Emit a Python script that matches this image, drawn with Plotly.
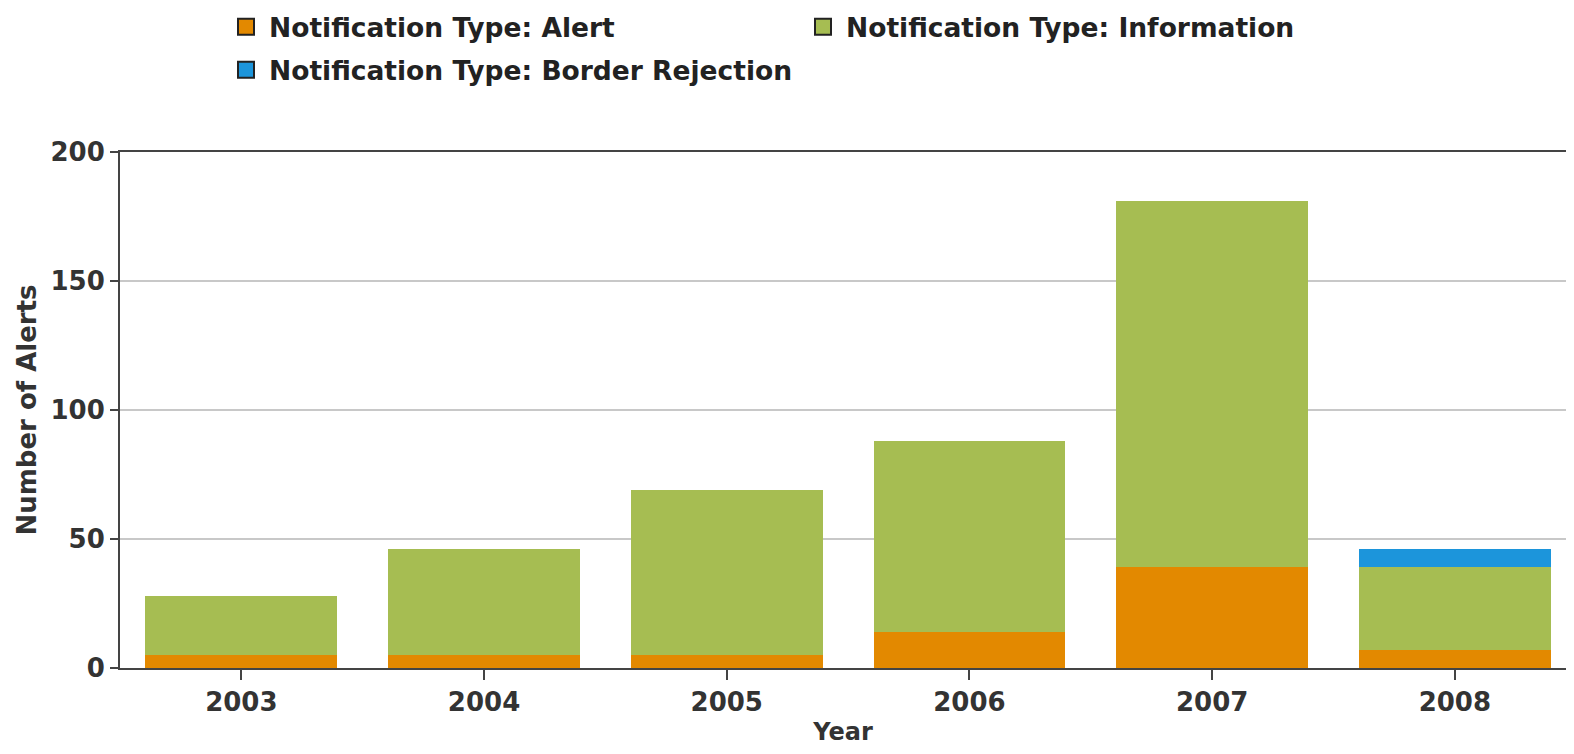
import plotly.graph_objects as go

years = ["2003", "2004", "2005", "2006", "2007", "2008"]
alert = [5, 5, 5, 14, 39, 7]
information = [23, 41, 64, 74, 142, 32]
border_rejection = [0, 0, 0, 0, 0, 7]

series_names = ["Notification Type: Alert", "Notification Type: Information",
                "Notification Type: Border Rejection"]
colors = ["#E38900", "#A6BD52", "#1C95DB"]
legend_ids = ["legend", "legend", "legend2"]
y_ticks = [0, 50, 100, 150, 200]

# page body has an 8px margin, so the figure is sized to fit the window without scrollbars
W, H = 1558, 738
FONT = "DejaVu Sans"
TXT = "#333333"

fig = go.Figure()
for name, vals, col in zip(series_names, [alert, information, border_rejection], colors):
    fig.add_trace(go.Bar(x=years, y=vals, name=name, marker=dict(color=col, line=dict(width=0)),
                         showlegend=False))
for name, col, lg in zip(series_names, colors, legend_ids):
    fig.add_trace(go.Scatter(x=[None], y=[None], mode="markers", name=name, legend=lg,
                             marker=dict(symbol="square", size=16, color=col,
                                         line=dict(width=2, color="#222222"))))

legend_font = dict(family=FONT, size=26.5, color="#222222", weight="bold")
fig.update_layout(
    width=W, height=H,
    barmode="stack", bargap=0.21,
    plot_bgcolor="white", paper_bgcolor="white",
    margin=dict(l=112, r=0, t=144, b=78, autoexpand=False),
    font=dict(family=FONT, color=TXT, size=26),
    legend=dict(orientation="h", xref="container", yref="container",
                x=215 / W, xanchor="left", y=1 - 19 / H, yanchor="middle",
                entrywidth=526, entrywidthmode="pixels", itemwidth=36,
                font=legend_font, traceorder="normal"),
    legend2=dict(orientation="h", xref="container", yref="container",
                 x=215 / W, xanchor="left", y=1 - 62 / H, yanchor="middle",
                 itemwidth=36, font=legend_font),
    xaxis=dict(range=[-0.5, 5.458], automargin=False, showline=True, linecolor="#444444",
               linewidth=2, mirror=True, ticks="outside", ticklen=10, tickcolor="#444444",
               tickwidth=2, tickfont=dict(family=FONT, size=26, color=TXT, weight="bold"),
               showgrid=False,
               title=dict(text="Year", font=dict(family=FONT, size=24, color=TXT, weight="bold"),
                          standoff=32)),
    yaxis=dict(range=[0, 200], tickvals=y_ticks, automargin=False, showline=True,
               linecolor="#444444", linewidth=2,
               ticks="outside", ticklen=8, tickcolor="#444444", tickwidth=2,
               tickfont=dict(family=FONT, size=26, color=TXT, weight="bold"),
               showgrid=True, gridcolor="#C8C8C8", gridwidth=1.5, zeroline=False,
               title=dict(text="Number of Alerts",
                          font=dict(family=FONT, size=26, color=TXT, weight="bold"),
                          standoff=6)),
)

fig.write_html("out.html")
